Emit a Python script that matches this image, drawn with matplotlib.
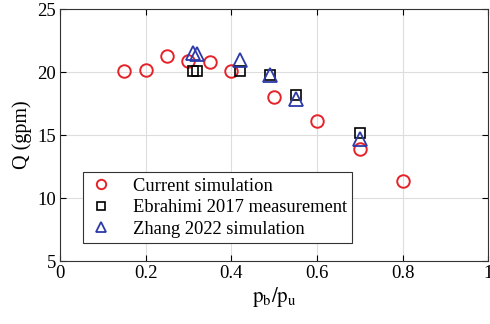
import matplotlib
matplotlib.use("Agg")
import matplotlib.pyplot as plt

plt.rcParams["font.family"] = ["Liberation Serif", "DejaVu Serif"]
plt.rcParams["mathtext.fontset"] = "stix"
plt.rcParams["font.size"] = 13

# Current simulation
cur_x = [0.15, 0.20, 0.25, 0.30, 0.35, 0.40, 0.50, 0.60, 0.70, 0.80]
cur_q = [20.05, 20.2, 21.3, 20.9, 20.8, 20.1, 18.0, 16.1, 13.9, 11.35]

# Ebrahimi 2017 measurement
ebr_x = [0.31, 0.32, 0.42, 0.49, 0.55, 0.70]
ebr_q = [20.05, 20.05, 20.05, 19.75, 18.2, 15.15]

# Zhang 2022 simulation
zh_x = [0.31, 0.32, 0.42, 0.49, 0.55, 0.70]
zh_q = [21.5, 21.4, 20.95, 19.8, 17.9, 14.7]

fig = plt.figure(figsize=(4.9, 3.24), dpi=100)
ax = fig.add_axes([0.1224, 0.194, 0.874, 0.778])

ax.plot(cur_x, cur_q, "o", ls="none", ms=9, mfc="none", mec="#e62229", mew=1.4,
        label="Current simulation")
ax.plot(ebr_x, ebr_q, "s", ls="none", ms=7, mfc="none", mec="black", mew=1.2,
        label="Ebrahimi 2017 measurement")
ax.plot(zh_x, zh_q, "^", ls="none", ms=9.5, mfc="none", mec="#2b3aa8", mew=1.3,
        label="Zhang 2022 simulation")

ax.set_xlim(0, 1)
ax.set_ylim(5, 25)
ax.set_xticks([0, 0.2, 0.4, 0.6, 0.8, 1])
ax.set_xticklabels(["0", "0.2", "0.4", "0.6", "0.8", "1"])
ax.set_yticks([5, 10, 15, 20, 25])
ax.grid(color="#dddddd", lw=0.8)
ax.tick_params(direction="in", top=True, right=True, length=4, width=0.8,
               labelsize=13.5, pad=3)
for s in ax.spines.values():
    s.set_linewidth(0.8)
    s.set_color("#333333")

ax.set_xlabel(r"$\mathrm{p_b/p_u}$", fontsize=15, labelpad=2)
ax.set_ylabel("Q (gpm)", fontsize=14.5, labelpad=4)

leg = ax.legend(loc="lower left", bbox_to_anchor=(0.053, 0.07), fancybox=False,
                framealpha=1, edgecolor="#333333", borderpad=0.3, markerscale=0.75,
                labelspacing=0.25, handletextpad=1.0, handlelength=1.4,
                fontsize=13.3, borderaxespad=0)
leg.get_frame().set_linewidth(0.8)

fig.savefig("out.png", dpi=100)
